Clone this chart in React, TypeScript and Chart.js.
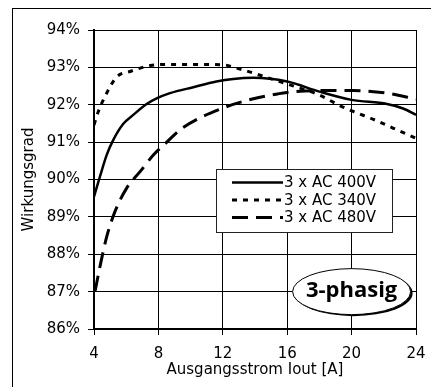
import React, { useEffect, useRef } from "react";
import { Chart, registerables } from "chart.js";

Chart.register(...registerables);

const xTicks = [4, 8, 12, 16, 20, 24];
const yTicks = [86, 87, 88, 89, 90, 91, 92, 93, 94];

const seriesLabels = ["3 x AC 400V", "3 x AC 340V", "3 x AC 480V"];

const current400 = [4, 4.37, 4.79, 5.2, 5.82, 6.44, 7.27, 7.89, 8.72, 10.17, 11.6, 12.65, 13.9, 16, 18, 20, 22.2, 23.2, 24];
const eff400 = [89.54, 90.08, 90.66, 91.06, 91.49, 91.73, 92.02, 92.17, 92.31, 92.47, 92.62, 92.69, 92.72, 92.62, 92.35, 92.13, 92.02, 91.9, 91.73];

const current340 = [4, 4.27, 4.68, 5.4, 6.24, 7.5, 8.5, 10, 12, 12.86, 14.1, 15.1, 16.4, 18, 19.3, 20.1, 21.35, 22.6, 24];
const eff340 = [91.46, 91.82, 92.22, 92.74, 92.89, 93.05, 93.08, 93.08, 93.07, 92.98, 92.82, 92.68, 92.5, 92.26, 91.97, 91.82, 91.61, 91.37, 91.1];

const current480 = [4.06, 4.37, 4.79, 5.3, 6.03, 6.86, 7.7, 8.4, 9.5, 12, 13.9, 15.4, 16, 18, 20.1, 22.2, 24];
const eff480 = [87.0, 87.67, 88.47, 89.14, 89.77, 90.21, 90.66, 90.95, 91.38, 91.91, 92.16, 92.29, 92.33, 92.38, 92.38, 92.31, 92.15];

const badgeText = "3-phasig";
const badgeAt = { x: 20, y: 87 };

const FONT = "'DejaVu Sans', sans-serif";

const zip = (xs: number[], ys: number[]) => xs.map((x, i) => ({ x, y: ys[i] }));

const overlayPlugin = {
  id: "overlay",
  afterDatasetsDraw(chart: any) {
    const { ctx, chartArea: ca, scales } = chart;
    ctx.save();
    // legend box
    const bx = ca.left + 122;
    const by = ca.top + 139;
    const bw = 176;
    const bh = 63;
    ctx.fillStyle = "#fff";
    ctx.fillRect(bx, by, bw, bh);
    ctx.strokeStyle = "#222";
    ctx.lineWidth = 1;
    ctx.strokeRect(bx + 0.5, by + 0.5, bw, bh);
    chart.data.datasets.forEach((ds: any, i: number) => {
      const y = by + 13.5 + i * 17.5;
      ctx.beginPath();
      ctx.setLineDash(ds.borderDash || []);
      ctx.lineWidth = ds.borderWidth;
      ctx.strokeStyle = "#000";
      ctx.moveTo(bx + 16, y);
      ctx.lineTo(bx + 67, y);
      ctx.stroke();
      ctx.setLineDash([]);
      ctx.fillStyle = "#000";
      ctx.font = `15px ${FONT}`;
      ctx.textAlign = "left";
      ctx.textBaseline = "middle";
      ctx.fillText(ds.label, bx + 68, y + 1);
    });
    // badge ellipse
    const cx = scales.x.getPixelForValue(badgeAt.x);
    const cy = scales.y.getPixelForValue(badgeAt.y);
    const rx = 59;
    const ry = 23;
    ctx.fillStyle = "#000";
    ctx.beginPath();
    ctx.ellipse(cx + 2, cy + 1.5, rx, ry, 0, 0, Math.PI * 2);
    ctx.fill();
    ctx.fillStyle = "#fff";
    ctx.beginPath();
    ctx.ellipse(cx, cy, rx, ry, 0, 0, Math.PI * 2);
    ctx.fill();
    ctx.strokeStyle = "#000";
    ctx.lineWidth = 1;
    ctx.stroke();
    ctx.fillStyle = "#000";
    ctx.font = `bold 22px 'Open Sans', sans-serif`;
    ctx.textAlign = "center";
    ctx.textBaseline = "middle";
    ctx.fillText(badgeText, cx, cy - 1);
    ctx.restore();
  },
};

export default function App() {
  const ref = useRef<HTMLCanvasElement>(null);
  useEffect(() => {
    if (!ref.current) return;
    const chart = new Chart(ref.current, {
      type: "line",
      data: {
        datasets: [
          {
            label: seriesLabels[0],
            data: zip(current400, eff400),
            borderColor: "#000",
            borderWidth: 2.5,
            pointRadius: 0,
            cubicInterpolationMode: "monotone",
          },
          {
            label: seriesLabels[1],
            data: zip(current340, eff340),
            borderColor: "#000",
            borderWidth: 3,
            borderDash: [5, 6],
            pointRadius: 0,
            cubicInterpolationMode: "monotone",
          },
          {
            label: seriesLabels[2],
            data: zip(current480, eff480),
            borderColor: "#000",
            borderWidth: 3,
            borderDash: [16, 8],
            pointRadius: 0,
            cubicInterpolationMode: "monotone",
          },
        ],
      },
      options: {
        responsive: false,
        animation: false,
        layout: { padding: { top: 30, right: 15, left: 20, bottom: 0 } },
        plugins: { legend: { display: false }, tooltip: { enabled: false } },
        scales: {
          x: {
            type: "linear",
            min: xTicks[0],
            max: xTicks[xTicks.length - 1],
            afterBuildTicks: (s: any) => {
              s.ticks = xTicks.map((v) => ({ value: v }));
            },
            afterFit: (s: any) => {
              s.height = 58;
              s.paddingLeft = 0;
              s.paddingRight = 0;
            },
            ticks: {
              color: "#000",
              font: { family: FONT, size: 15 },
              padding: 10,
              maxRotation: 0,
            },
            grid: { color: "#000", lineWidth: 1, tickLength: 6 },
            border: { color: "#000", width: 2 },
            title: {
              display: true,
              text: "Ausgangsstrom Iout [A]",
              color: "#000",
              font: { family: FONT, size: 15 },
              padding: { top: 0, bottom: 8 },
            },
          },
          y: {
            type: "linear",
            min: yTicks[0],
            max: yTicks[yTicks.length - 1],
            afterBuildTicks: (s: any) => {
              s.ticks = yTicks.map((v) => ({ value: v }));
            },
            afterFit: (s: any) => {
              s.width = 74;
              s.paddingTop = 0;
              s.paddingBottom = 0;
            },
            ticks: {
              color: "#000",
              font: { family: FONT, size: 15 },
              padding: 8,
              callback: (v: any) => `${v}%`,
            },
            grid: { color: "#000", lineWidth: 1, tickLength: 6 },
            border: { color: "#000", width: 2 },
            title: {
              display: true,
              text: "Wirkungsgrad",
              color: "#000",
              font: { family: FONT, size: 15 },
              padding: { top: 0, bottom: 0 },
            },
          },
        },
      },
      plugins: [overlayPlugin],
    } as any);
    return () => chart.destroy();
  }, []);
  return (
    <div style={{ position: "fixed", left: 0, top: 0, width: 431, height: 387, background: "#fff" }}>
      <canvas ref={ref} width={431} height={387} style={{ position: "absolute", left: 0, top: 0, width: 431, height: 387 }} />
      <div
        style={{
          position: "absolute",
          left: 12,
          top: 8,
          right: 0,
          bottom: 0,
          borderLeft: "1px solid #000",
          borderTop: "1px solid #000",
          pointerEvents: "none",
        }}
      />
    </div>
  );
}
